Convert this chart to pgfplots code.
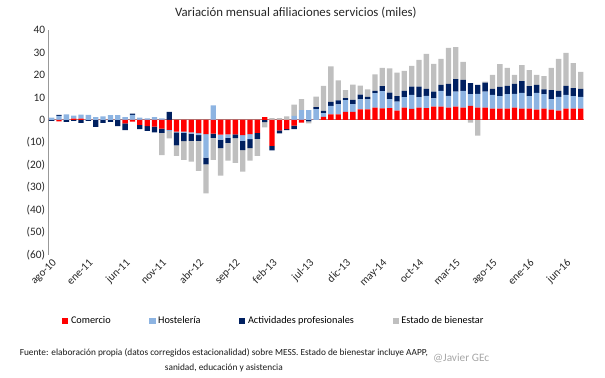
\documentclass[border=0pt]{standalone}
\usepackage{pgfplots}
\pgfplotsset{compat=1.18}
\usepackage{pgfplotstable}
\usepackage{fontspec}
\setmainfont{Carlito}
\definecolor{cCom}{RGB}{255,0,0}
\definecolor{cHos}{RGB}{141,180,226}
\definecolor{cAct}{RGB}{0,32,96}
\definecolor{cEst}{RGB}{191,191,191}
\definecolor{zeroline}{RGB}{175,120,120}
\pgfplotstableread{
x com hos act est
0 0 1.0 -0.4 0
1 -0.6 1.8 0.4 0
2 0 2.5 -0.9 0
3 0.6 1.3 -0.4 0
4 0.6 1.8 -1.3 0
5 0 2.2 -0.4 0
6 0 1.2 -3.1 0
7 0 1.6 -1.3 0
8 0 2.1 -0.9 0
9 0 2.1 -2.7 0
10 -1.5 1.2 -3.0 0
11 -0.8 2.3 0.5 0
12 -2.2 1.0 -1.9 0
13 -2.7 0.7 -2.2 0
14 -3.0 1.2 -2.5 0
15 -3.9 0.7 -1.9 -9.9
16 -4.4 -0.5 3.6 -3.3
17 -5.2 -0.3 -5.8 -4.7
18 -5.2 -0.5 -3.7 -8.4
19 -5.5 -0.6 -3.2 -9.2
20 -5.9 -0.9 -2.5 -13.3
21 -6.3 -10.5 -3.0 -12.9
22 -6.1 6.5 -1.9 -9.8
23 -6.5 -2.3 -3.7 -12.3
24 -6.4 -1.6 -2.2 -7.9
25 -6.4 0 -1.7 -11.0
26 -6.8 -2.5 -4.1 -9.6
27 -6.3 -2.2 -4.0 -5.6
28 -5.8 0 -2.6 -7.6
29 1.2 0 -1.0 -2.3
30 -11.5 0 -2.0 0.8
31 -4.6 0 -1.4 0.8
32 -4.1 0 -0.4 1.6
33 -2.5 1.8 -1.6 5.0
34 -1.2 4.4 0 4.8
35 0 4.4 -0.6 -0.9
36 0 4.8 0.9 4.7
37 1.4 1.6 1.0 11.1
38 2.5 3.7 1.8 15.8
39 2.5 4.4 1.8 8.9
40 3.6 5.2 0.9 3.6
41 3.6 3.4 1.9 6.8
42 4.7 4.4 2.2 4.0
43 4.7 4.4 1.2 3.3
44 5.5 6.4 1.0 7.4
45 5.1 7.7 2.2 8.1
46 5.2 4.1 2.8 10.8
47 4.1 4.0 2.5 10.4
48 5.5 4.6 2.8 8.9
49 4.9 6.2 3.7 9.2
50 5.5 4.6 4.7 11.9
51 5.2 5.5 3.1 15.6
52 5.9 3.7 3.0 12.3
53 5.9 7.0 2.7 11.6
54 5.5 5.2 5.3 16.0
55 5.9 6.7 5.6 14.2
56 5.5 7.4 4.9 8.0
57 6.2 5.3 4.9 -1.2
58 5.5 6.1 4.0 -7.0
59 5.5 7.1 4.0 0.4
60 5.0 6.1 2.7 6.2
61 5.0 5.6 4.1 10.1
62 5.0 6.5 3.6 8.0
63 5.5 6.1 4.4 4.0
64 5.0 7.0 5.3 7.1
65 5.0 5.6 4.4 7.1
66 4.6 7.4 3.6 4.4
67 5.0 6.5 2.1 5.9
68 4.6 4.7 4.0 9.8
69 4.1 6.1 2.7 14.2
70 5.0 6.1 4.0 14.7
71 5.0 5.6 3.6 11.1
72 5.0 5.2 3.6 7.6
}\datatable
\begin{document}
\begin{tikzpicture}
\useasboundingbox (0,0) rectangle (454pt,283.5pt);
\node[font=\fontsize{9.6}{11}\selectfont, text=black!85] at (222pt,274pt) {Variación mensual afiliaciones servicios (miles)};
\begin{axis}[
  at={(36pt,92.25pt)}, anchor=south west,
  scale only axis, width=402.5pt, height=168.75pt,
  ybar stacked, stack negative=separate,
  bar width=4pt,
  xmin=-0.5, xmax=72.5, ymin=-60, ymax=40,
  axis x line*=bottom, x axis line style={draw=none},
  axis y line*=left, y axis line style={draw=gray!80},
  tick style={draw=none},
  ytick={-60,-50,-40,-30,-20,-10,0,10,20,30,40},
  yticklabels={(60),(50),(40),(30),(20),(10),0,10,20,30,40},
  xtick={0,5,...,70},
  xticklabels={ago-10,ene-11,jun-11,nov-11,abr-12,sep-12,feb-13,jul-13,dic-13,may-14,oct-14,mar-15,ago-15,ene-16,jun-16},
  xticklabel style={rotate=45, anchor=north east, inner sep=1.5pt, font=\fontsize{8.3}{9}\selectfont, text=black!85},
  yticklabel style={font=\fontsize{8.5}{10}\selectfont, text=black!85, inner sep=2pt},
  /pgf/number format/assume math mode=true,
  legend style={at={(0.0186,-0.293)}, anchor=west, draw=none, fill=none,
    legend columns=4, font=\fontsize{7.7}{9}\selectfont,
    /tikz/every even column/.append style={column sep=27pt}},
  legend image code/.code={\fill[#1,draw=none] (0pt,-2.3pt) rectangle (4.6pt,2.3pt);},
]
\addplot[fill=cCom, draw=none] table[x=x,y=com] {\datatable};
\addlegendentry{Comercio}
\addplot[fill=cHos, draw=none] table[x=x,y=hos] {\datatable};
\addlegendentry{Hostelería}
\addplot[fill=cAct, draw=none] table[x=x,y=act] {\datatable};
\addlegendentry{Actividades profesionales}
\addplot[fill=cEst, draw=none] table[x=x,y=est] {\datatable};
\addlegendentry{Estado de bienestar}
\draw[zeroline, line width=0.8pt] (axis cs:-0.5,0) -- (axis cs:72.5,0);
\end{axis}
\node[font=\fontsize{7}{11.2}\selectfont, align=center, text=black!90] at (168pt,13.2pt) {Fuente: elaboración propia (datos corregidos estacionalidad) sobre MESS. Estado de bienestar incluye AAPP,\\ sanidad, educación y asistencia};
\node[font=\fontsize{8.5}{10}\selectfont, text=black!35] at (346pt,15pt) {@Javier GEc};
\end{tikzpicture}
\end{document}
